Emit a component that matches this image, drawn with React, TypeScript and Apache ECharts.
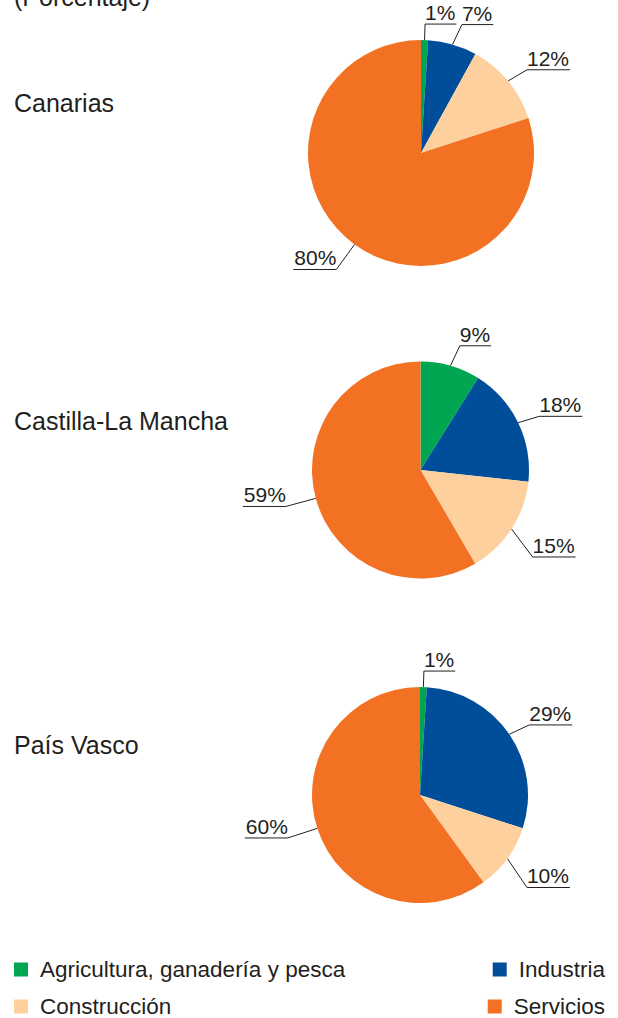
import React, { useEffect, useRef } from "react";
import * as echarts from "echarts";

// ---- data ----
const regions = ["Canarias", "Castilla-La Mancha", "País Vasco"];
const sectors = ["Agricultura, ganadería y pesca", "Industria", "Construcción", "Servicios"];
const canarias = [1, 7, 12, 80];
const castillaLaMancha = [9, 18, 15, 59];
const paisVasco = [1, 29, 10, 60];
const unitLabel = "(Porcentaje)";

// ---- styles / layout ----
const sectorColors = ["#00A651", "#004E9A", "#FDD09E", "#F37123"];
const textColor = "#231F20";
const FONT = "'Liberation Sans', Arial, Helvetica, sans-serif";
const pieLayout = [
  { center: [421, 153], radius: 113, labelY: 103 },
  { center: [420.5, 470], radius: 108.5, labelY: 421 },
  { center: [420, 795], radius: 108, labelY: 745 },
];

const regionValues = [canarias, castillaLaMancha, paisVasco];
const DEG = Math.PI / 180;

function labelLayout(params: any) {
  const pts = params.labelLinePoints;
  if (!pts) return {};
  const p0 = pts[0];
  const p1 = pts[1];
  const dx = p1[0] - p0[0];
  const dy = p1[1] - p0[1];
  let ang = Math.atan2(dy, dx);
  const lower = dy > 0;
  const isLeft = dx < -0.5;
  const nearVertical = Math.abs(dx) < Math.abs(dy) * 0.15;
  let want = 16;
  if (!lower && !nearVertical) {
    want = 22;
    ang += isLeft ? -9 * DEG : 9 * DEG; // upper leaders lean outward
  }
  if (lower) {
    want = isLeft ? 31 : 35;
    if (!isLeft) ang += 20 * DEG; // steeper leaders on lower-right
  }
  const bx = p0[0] + Math.cos(ang) * want;
  const by = p0[1] + Math.sin(ang) * want;
  const w = params.labelRect.width;
  const endX = isLeft ? bx - w - 1 : bx + w + 1;
  return {
    x: bx,
    y: by - 1,
    align: isLeft ? "right" : "left",
    verticalAlign: "bottom",
    labelLinePoints: [
      [p0[0], p0[1]],
      [bx, by],
      [endX, by],
    ],
  };
}

export default function App() {
  const ref = useRef<HTMLDivElement>(null);

  useEffect(() => {
    if (!ref.current) return;
    const chart = echarts.init(ref.current, null, { renderer: "svg" });

    const series = regionValues.map((vals, i) => ({
      type: "pie",
      name: regions[i],
      center: pieLayout[i].center,
      radius: pieLayout[i].radius,
      startAngle: 90,
      clockwise: true,
      avoidLabelOverlap: false,
      silent: true,
      itemStyle: { borderWidth: 0 },
      label: {
        show: true,
        position: "outside",
        formatter: (p: any) => `${p.value}%`,
        fontSize: 21,
        fontFamily: FONT,
        color: textColor,
      },
      labelLine: {
        show: true,
        length: 20,
        length2: 30,
        smooth: false,
        lineStyle: { color: textColor, width: 1 },
      },
      labelLayout,
      emphasis: { disabled: true },
      data: sectors.map((s, k) => ({ name: s, value: vals[k] })),
    }));

    const legendBase = {
      orient: "horizontal",
      icon: "rect",
      itemWidth: 14,
      itemHeight: 14,
      padding: 0,
      selectedMode: false,
      textStyle: { fontSize: 22.5, fontFamily: FONT, color: textColor, padding: [0, 0, 0, 7] },
    };

    chart.setOption({
      animation: false,
      color: sectorColors,
      legend: [
        { ...legendBase, data: [sectors[0]], left: 14, top: 958 },
        { ...legendBase, data: [sectors[2]], left: 14, top: 995 },
        { ...legendBase, data: [sectors[1]], right: 13, top: 958 },
        { ...legendBase, data: [sectors[3]], right: 13, top: 995 },
      ],
      graphic: [
        {
          type: "text",
          x: 14,
          y: -3,
          style: { text: unitLabel, fontSize: 25, fontFamily: FONT, fill: textColor, verticalAlign: "middle" },
        },
        ...regions.map((r, i) => ({
          type: "text",
          x: 14,
          y: pieLayout[i].labelY,
          style: { text: r, fontSize: 25, fontFamily: FONT, fill: textColor, verticalAlign: "middle" },
        })),
      ],
      series,
    });

    return () => chart.dispose();
  }, []);

  return (
    <div
      ref={ref}
      style={{ position: "fixed", left: 0, top: 0, width: 618, height: 1018, background: "#fff" }}
    />
  );
}
